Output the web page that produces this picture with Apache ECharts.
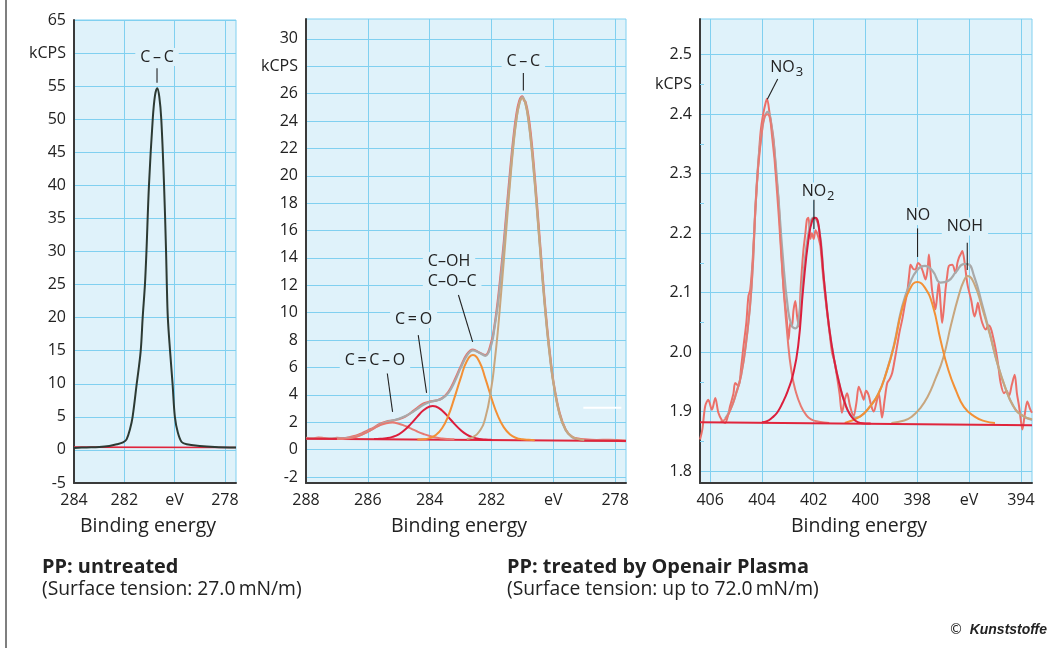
<!DOCTYPE html>
<html>
<head>
<meta charset="utf-8">
<title>XPS C1s / N1s – PP</title>
<script src="https://cdn.jsdelivr.net/npm/echarts@6.0.0/dist/echarts.min.js"></script>
<style>
html,body{margin:0;padding:0;background:#fff;}
#chart{width:1056px;height:648px;}
</style>
</head>
<body>
<div id="chart"></div>
<script>
// ---- panel 1: PP untreated, C1s ----
var p1XTicks = [284, 282, 280, 278];
var p1YTicks = [-5, 0, 5, 10, 15, 20, 25, 30, 35, 40, 45, 50, 55, 60, 65];
var p1Curve = [[284.0,0.30],[283.5,0.38],[283.0,0.45],[282.6,0.60],[282.3,0.85],[282.05,1.15],[281.91,1.6],[281.77,3.2],
  [281.67,5.0],[281.51,9.9],[281.35,14.9],[281.27,20.0],[281.18,25.0],[281.12,30.0],[281.02,40.0],[280.87,50.0],
  [280.78,53.6],[280.69,54.7],[280.61,53.4],[280.53,50.0],[280.42,40.0],[280.34,30.0],[280.31,25.0],[280.27,20.0],
  [280.18,14.9],[280.08,9.9],[279.99,5.0],[279.87,2.6],[279.72,1.2],[279.52,0.85],[279.0,0.6],[278.4,0.45],[277.56,0.35]];
var p1Base = [[284.0,0.42],[277.56,0.36]];

// ---- panel 2: PP plasma treated, C1s ----
var p2XTicks = [288, 286, 284, 282, 280, 278];
var p2YTicks = [-2, 0, 2, 4, 6, 8, 10, 12, 14, 16, 18, 20, 22, 24, 26, 28, 30];
var p2Measured = [[288.0,0.86],[287.8,0.82],[287.6,0.88],[287.4,0.84],[287.2,0.80],[287.0,0.85],[286.8,0.84],[286.6,0.90],
  [286.4,1.00],[286.2,1.18],[286.0,1.40],[285.8,1.62],[285.6,1.88],[285.4,2.05],[285.2,2.12],[285.0,2.22],[284.8,2.40],
  [284.6,2.70],[284.4,3.05],[284.2,3.36],[284.0,3.50],[283.8,3.58],[283.6,3.75],[283.4,4.20],[283.2,5.05],[283.0,6.05],
  [282.8,6.95],[282.6,7.30],[282.4,7.10],[282.2,6.90],[282.0,7.90],[281.9,9.10],[281.8,10.80],[281.7,12.90],[281.6,15.20],
  [281.5,17.80],[281.4,20.30],[281.3,22.60],[281.2,24.40],[281.1,25.50],[281.0,25.80],[280.95,25.50],[280.9,25.40],
  [280.8,24.30],[280.7,22.40],[280.6,19.90],[280.5,17.10],[280.4,14.20],[280.3,11.40],[280.2,8.90],[280.1,6.80],
  [280.0,5.00],[279.8,2.70],[279.6,1.45],[279.4,0.95],[279.2,0.80],[279.0,0.74],[278.6,0.70],[278.2,0.72],[277.65,0.66]];
var p2Envelope = [[288.0,0.80],[287.5,0.79],[287.0,0.80],[286.8,0.81],[286.6,0.85],[286.4,0.94],[286.2,1.10],[286.0,1.32],
  [285.8,1.57],[285.6,1.83],[285.4,2.02],[285.2,2.13],[285.0,2.25],[284.8,2.43],[284.6,2.68],[284.4,2.98],[284.2,3.28],
  [284.0,3.48],[283.8,3.58],[283.6,3.72],[283.4,4.12],[283.2,4.92],[283.0,5.95],[282.8,6.85],[282.6,7.25],[282.4,7.08],
  [282.2,6.85],[282.0,7.70],[281.9,8.95],[281.8,10.50],[281.7,12.50],[281.6,14.80],[281.5,17.40],[281.4,19.90],
  [281.3,22.25],[281.2,24.10],[281.1,25.30],[281.0,25.74],[280.9,25.27],[280.8,23.96],[280.7,21.97],[280.6,19.47],
  [280.5,16.69],[280.4,13.84],[280.3,11.11],[280.2,8.66],[280.1,6.58],[280.0,4.88],[279.8,2.59],[279.6,1.41],
  [279.4,0.91],[279.2,0.73],[279.0,0.66],[278.0,0.63],[277.65,0.62]];
var p2CC = [[282.8,0.77],[282.6,0.92],[282.4,1.30],[282.2,2.30],[282.0,4.60],[281.9,6.40],[281.8,8.55],[281.7,11.14],
  [281.6,13.86],[281.5,16.71],[281.4,19.49],[281.3,21.99],[281.2,23.97],[281.1,25.25],[281.0,25.68],[280.9,25.25],
  [280.8,23.97],[280.7,21.99],[280.6,19.49],[280.5,16.71],[280.4,13.86],[280.3,11.14],[280.2,8.69],[280.1,6.61],
  [280.0,4.91],[279.8,2.62],[279.6,1.45],[279.4,0.95],[279.2,0.77],[279.0,0.70]];
var p2COH = [[284.4,0.73],[284.2,0.75],[284.0,0.84],[283.8,1.06],[283.6,1.56],[283.4,2.46],[283.2,3.78],[283.0,5.20],
  [282.8,6.45],[282.6,6.90],[282.4,6.45],[282.2,5.20],[282.0,3.75],[281.8,2.50],[281.6,1.62],[281.4,1.10],[281.2,0.85],
  [281.0,0.75],[280.8,0.71],[280.6,0.69]];
var p2CO = [[285.8,0.77],[285.6,0.79],[285.4,0.83],[285.2,0.93],[285.0,1.12],[284.8,1.45],[284.6,1.90],[284.4,2.41],
  [284.2,2.87],[284.0,3.15],[283.9,3.19],[283.8,3.15],[283.6,2.86],[283.4,2.39],[283.2,1.88],[283.0,1.43],[282.8,1.09],
  [282.6,0.89],[282.4,0.78],[282.2,0.73],[282.0,0.71]];
var p2CCO = [[287.0,0.77],[286.8,0.78],[286.6,0.82],[286.4,0.92],[286.2,1.08],[286.0,1.30],[285.8,1.55],[285.6,1.79],
  [285.4,1.93],[285.2,1.97],[285.0,1.89],[284.8,1.73],[284.6,1.53],[284.4,1.32],[284.2,1.14],[284.0,0.99],[283.8,0.88],
  [283.6,0.81],[283.4,0.77],[283.2,0.75]];
var p2Base = [[288.0,0.80],[277.65,0.62]];
var p2Stray = [[279.03,3.05],[277.8,3.05]];

// ---- panel 3: PP plasma treated, N1s ----
var p3XTicks = [406, 404, 402, 400, 398, 396, 394];
var p3YTicks = [1.8, 1.9, 2.0, 2.1, 2.2, 2.3, 2.4, 2.5];
var p3YLabels = [1.8, 1.9, 2.0, 2.1, 2.2, 2.3, 2.4, 2.45, 2.5];
var p3MinorTicks = [1.85, 1.95, 2.05, 2.15, 2.25, 2.35, 2.45];
var p3Measured = [[406.39,1.853],[406.3,1.87],[406.19,1.909],[406.07,1.92],[405.93,1.903],[405.8,1.923],[405.68,1.898],
  [405.55,1.886],[405.42,1.881],[405.3,1.895],[405.23,1.909],[405.1,1.93],[405.03,1.948],[404.9,1.943],[404.8,1.975],
  [404.71,2.01],[404.6,2.05],[404.52,2.094],[404.45,2.105],[404.35,2.16],[404.25,2.24],[404.15,2.31],[404.05,2.37],
  [403.95,2.40],[403.85,2.42],[403.8,2.426],[403.7,2.40],[403.55,2.358],[403.45,2.30],[403.36,2.257],[403.25,2.17],
  [403.16,2.105],[403.05,2.06],[402.97,2.021],[402.9,2.05],[402.84,2.043],[402.78,2.07],[402.71,2.086],[402.64,2.06],
  [402.58,2.043],[402.5,2.11],[402.4,2.17],[402.32,2.20],[402.26,2.223],[402.2,2.226],[402.13,2.19],[402.07,2.20],
  [402.0,2.19],[401.93,2.205],[401.87,2.20],[401.8,2.19],[401.74,2.178],[401.62,2.12],[401.48,2.066],[401.38,2.03],
  [401.29,1.999],[401.2,1.985],[401.1,1.959],[401.0,1.93],[400.91,1.898],[400.8,1.92],[400.71,1.931],[400.6,1.91],
  [400.46,1.892],[400.35,1.915],[400.26,1.942],[400.15,1.93],[400.07,1.92],[399.98,1.935],[399.88,1.928],[399.78,1.91],
  [399.68,1.90],[399.58,1.915],[399.49,1.931],[399.42,1.91],[399.36,1.89],[399.26,1.92],[399.16,1.948],[399.06,1.955],
  [398.97,1.965],[398.88,1.985],[398.78,2.01],[398.68,2.035],[398.58,2.055],[398.48,2.08],[398.39,2.10],[398.3,2.135],
  [398.26,2.147],[398.16,2.14],[398.07,2.139],[397.97,2.15],[397.88,2.146],[397.78,2.135],[397.68,2.122],[397.6,2.14],
  [397.55,2.164],[397.48,2.13],[397.43,2.105],[397.36,2.085],[397.3,2.072],[397.23,2.095],[397.17,2.117],[397.1,2.08],
  [397.04,2.049],[396.97,2.075],[396.91,2.105],[396.84,2.13],[396.78,2.145],[396.65,2.147],[396.52,2.133],[396.45,2.15],
  [396.39,2.159],[396.32,2.165],[396.26,2.17],[396.17,2.15],[396.1,2.125],[396.05,2.111],[395.92,2.088],[395.79,2.06],
  [395.72,2.07],[395.66,2.083],[395.58,2.065],[395.49,2.049],[395.36,2.038],[395.25,2.045],[395.17,2.041],[395.07,2.025],
  [394.97,2.004],[394.88,1.98],[394.78,1.948],[394.65,1.931],[394.55,1.935],[394.46,1.926],[394.35,1.945],[394.24,1.962],
  [394.15,1.93],[394.07,1.909],[394.0,1.885],[393.94,1.87],[393.85,1.895],[393.75,1.917],[393.65,1.905],[393.57,1.898]];
var p3Envelope = [[405.42,1.888],[405.2,1.905],[405.0,1.93],[404.8,1.962],[404.6,2.02],[404.4,2.11],[404.2,2.28],
  [404.0,2.372],[403.78,2.404],[403.6,2.37],[403.4,2.28],[403.2,2.165],[403.0,2.075],[402.85,2.045],[402.7,2.04],
  [402.6,2.048],[402.4,2.13],[402.2,2.20],[402.0,2.226],[401.8,2.21],[401.6,2.12],[401.4,2.04],[401.2,1.985],
  [401.0,1.945],[400.8,1.915],[400.6,1.896],[400.4,1.89],[400.2,1.892],[399.8,1.91],[399.5,1.93],[399.2,1.965],
  [398.9,2.012],[398.6,2.074],[398.3,2.114],[398.0,2.138],[397.7,2.145],[397.4,2.136],[397.1,2.117],[396.8,2.12],
  [396.5,2.135],[396.2,2.148],[396.05,2.148],[395.8,2.127],[395.5,2.081],[395.2,2.032],[394.9,1.98],[394.6,1.94],
  [394.3,1.91],[394.0,1.895],[393.57,1.886]];
var p3NO3 = [[405.6,1.883],[405.4,1.888],[405.2,1.905],[405.0,1.93],[404.8,1.962],[404.6,2.02],[404.4,2.11],[404.2,2.28],
  [404.0,2.37],[403.9,2.395],[403.78,2.40],[403.6,2.36],[403.4,2.26],[403.2,2.13],[403.0,2.02],[402.85,1.965],
  [402.7,1.935],[402.5,1.91],[402.3,1.895],[402.1,1.887],[401.8,1.883],[401.4,1.881]];
var p3NO2 = [[404.0,1.882],[403.8,1.884],[403.6,1.89],[403.4,1.899],[403.2,1.915],[403.0,1.935],[402.8,1.962],
  [402.6,2.01],[402.4,2.11],[402.2,2.19],[402.05,2.222],[401.94,2.226],[401.8,2.21],[401.6,2.12],[401.4,2.04],
  [401.2,1.985],[401.0,1.945],[400.8,1.915],[400.6,1.895],[400.4,1.885],[400.2,1.881],[399.8,1.880]];
var p3NO = [[400.8,1.881],[400.2,1.892],[399.8,1.91],[399.5,1.93],[399.2,1.965],[398.9,2.01],[398.6,2.07],[398.3,2.105],
  [398.0,2.118],[397.7,2.108],[397.4,2.078],[397.1,2.02],[396.8,1.97],[396.5,1.935],[396.2,1.908],[395.8,1.892],
  [395.4,1.884],[395.0,1.881]];
var p3NOH = [[399.0,1.881],[398.5,1.885],[398.2,1.892],[397.9,1.905],[397.6,1.925],[397.3,1.955],[397.0,1.99],
  [396.7,2.045],[396.4,2.095],[396.2,2.12],[396.05,2.128],[395.8,2.115],[395.5,2.075],[395.2,2.03],[394.9,1.98],
  [394.6,1.94],[394.3,1.91],[394.0,1.895],[393.57,1.887]];
var p3Base = [[406.39,1.882],[393.57,1.877]];

// peak labels: text, position [eV, kCPS], leader from/to
var peakLabels = [
  {grid:0, text:'C\u2009\u2013\u2009C', at:[280.70,59.4], from:[280.70,57.7], to:[280.70,55.5]},
  {grid:1, text:'C\u2009\u2013\u2009C', at:[280.97,28.35], from:[280.97,27.5], to:[280.97,26.22]},
  {grid:1, text:'C\u2013OH', at:[284.22,13.77], align:'left'},
  {grid:1, text:'C\u2013O\u2013C', at:[284.22,12.31], align:'left', from:[283.07,11.29], to:[282.61,7.87]},
  {grid:1, text:'C\u2009=\u2009O', at:[284.52,9.53], from:[284.37,8.36], to:[284.10,4.14]},
  {grid:1, text:'C\u2009=\u2009C\u2009\u2013\u2009O', at:[285.77,6.53], from:[285.37,5.56], to:[285.20,2.75]},
  {grid:2, text:'NO', sub:'3', at:[403.04,2.478], from:[403.39,2.459], to:[403.79,2.425]},
  {grid:2, text:'NO', sub:'2', at:[401.83,2.270], from:[401.99,2.256], to:[401.99,2.207]},
  {grid:2, text:'NO', at:[397.97,2.229], from:[397.99,2.208], to:[397.99,2.160]},
  {grid:2, text:'NOH', at:[396.16,2.211], from:[396.07,2.184], to:[396.07,2.138]}
];

var BG = '#dff2fa', GRIDC = '#80d0f0', AXISC = '#3a3a3a', TXT = '#222', FONT = '"Open Sans", "Noto Sans", sans-serif';
var C_MEAS = '#ec6f68', C_ENV = '#a9a9a9', C_TAN = '#c8a67e', C_ORANGE = '#f39035', C_CRIMSON = '#dc1e3c',
    C_SALMON = '#e77a72', C_BASE = '#e0253c';

function fmt(v, kcps, digits) {
  if (Math.abs(v - kcps) < 1e-6) return 'kCPS';
  return digits ? v.toFixed(digits) : String(v);
}

function xAxisCfg(grid, min, max, ticks, evTick) {
  return {
    gridIndex: grid, type: 'value', min: min, max: max, inverse: true,
    axisLine: {show: true, onZero: false, lineStyle: {color: AXISC, width: 2}},
    axisTick: {show: false, customValues: ticks},
    axisLabel: {customValues: ticks, margin: 9, fontSize: 16, color: TXT, fontFamily: FONT,
      formatter: function (v) { return v === evTick ? 'eV' : String(v); }},
    splitLine: {show: true, lineStyle: {color: GRIDC, width: 1}}
  };
}

function yAxisCfg(grid, min, max, ticks, labels, kcps, digits) {
  return {
    gridIndex: grid, type: 'value', min: min, max: max,
    axisLine: {show: true, onZero: false, lineStyle: {color: AXISC, width: 2}},
    axisTick: {show: false, customValues: ticks},
    axisLabel: {customValues: labels, margin: 8, fontSize: 16, color: TXT, fontFamily: FONT,
      formatter: function (v) { return fmt(v, kcps, digits); }},
    splitLine: {show: true, lineStyle: {color: GRIDC, width: 1}}
  };
}

function line(grid, data, color, z, smooth, width) {
  return {
    type: 'line', xAxisIndex: grid, yAxisIndex: grid, data: data, symbol: 'none', showSymbol: false,
    smooth: smooth, silent: true, z: z,
    lineStyle: {color: color, width: width || 2}
  };
}

var gridBox = {show: true, backgroundColor: BG, borderColor: GRIDC, borderWidth: 1, outerBoundsMode: 'none'};

var option = {
  animation: false,
  backgroundColor: '#fff',
  grid: [
    Object.assign({left: 74, top: 20, width: 162, height: 463}, gridBox),
    Object.assign({left: 306, top: 19, width: 320, height: 464}, gridBox),
    Object.assign({left: 700, top: 19, width: 332, height: 464}, gridBox)
  ],
  xAxis: [
    xAxisCfg(0, 277.56, 284, p1XTicks, 280),
    xAxisCfg(1, 277.65, 288, p2XTicks, 280),
    xAxisCfg(2, 393.57, 406.39, p3XTicks, 396)
  ],
  yAxis: [
    yAxisCfg(0, -5, 65, p1YTicks, p1YTicks, 60, 0),
    yAxisCfg(1, -2.44, 31.45, p2YTicks, p2YTicks, 28, 0),
    yAxisCfg(2, 1.78, 2.56, p3YTicks, p3YLabels, 2.45, 1),
    {
      gridIndex: 2, type: 'value', min: 1.78, max: 2.56, position: 'left',
      axisLine: {show: true, onZero: false, lineStyle: {color: 'rgba(0,0,0,0)'}},
      axisTick: {show: true, inside: true, length: 4, customValues: p3MinorTicks, lineStyle: {color: GRIDC, width: 1}},
      axisLabel: {show: false},
      splitLine: {show: false}
    }
  ],
  series: [
    line(0, p1Base, C_BASE, 2, false, 1.6),
    line(0, p1Curve, '#2c3a33', 3, 0.35, 2),

    line(1, p2Measured, C_MEAS, 2, 0.4, 2.2),
    line(1, p2Envelope, C_ENV, 3, 0.4, 2.2),
    line(1, p2Base, C_BASE, 4, false, 2),
    line(1, p2CCO, C_SALMON, 5, 0.5),
    line(1, p2CO, C_CRIMSON, 5, 0.5),
    line(1, p2COH, C_ORANGE, 5, 0.5),
    line(1, p2CC, C_TAN, 6, 0.5),
    line(1, p2Stray, '#ffffff', 6, false, 2),

    line(2, p3Measured, C_MEAS, 2, 0.3, 2),
    line(2, p3Envelope, C_ENV, 3, 0.5, 2.2),
    line(2, p3NO3, C_SALMON, 4, 0.5),
    line(2, p3NOH, C_TAN, 4, 0.5),
    line(2, p3NO, C_ORANGE, 5, 0.5),
    line(2, p3NO2, C_CRIMSON, 5, 0.5),
    line(2, p3Base, C_BASE, 6, false, 2)
  ]
};

var chart = echarts.init(document.getElementById('chart'), null, {renderer: 'canvas'});
chart.setOption(option);

// texts outside the plots
var measureCtx = document.createElement('canvas').getContext('2d');
function textWidth(str, size) {
  measureCtx.font = size + 'px ' + FONT;
  return measureCtx.measureText(str).width;
}

function txt(x, y, text, size, extra) {
  var style = Object.assign({text: text, x: x, y: y, fontSize: size, fontFamily: FONT, fill: TXT,
    align: 'left', verticalAlign: 'middle'}, extra || {});
  return {type: 'text', z: 100, silent: true, style: style};
}

var kunst = txt(0, 0, 'Kunststoffe', 15.5, {align: 'right', fontWeight: 'bold', fontStyle: 'italic',
  fontFamily: '"Liberation Sans Narrow", "Liberation Sans", sans-serif'});
kunst.x = 1047; kunst.y = 630; kunst.scaleX = 0.9;

var graphics = [
  {type: 'line', silent: true, shape: {x1: 6, y1: 0, x2: 6, y2: 648}, style: {stroke: '#555', lineWidth: 1.5}},
  txt(148, 526, 'Binding energy', 19.5, {align: 'center'}),
  txt(459, 526, 'Binding energy', 19.5, {align: 'center'}),
  txt(859, 526, 'Binding energy', 19.5, {align: 'center'}),
  txt(42, 567, 'PP: untreated', 19.9, {fontWeight: 'bold'}),
  txt(42, 590, '(Surface tension: 27.0\u2009mN/m)', 19.3),
  txt(507, 567, 'PP: treated by Openair Plasma', 19.9, {fontWeight: 'bold'}),
  txt(507, 590, '(Surface tension: up to 72.0\u2009mN/m)', 19.3),
  txt(956, 630, '\u00a9', 14, {align: 'center', fontFamily: '"DejaVu Sans", sans-serif'}),
  kunst
];

var LBL = 16;
peakLabels.forEach(function (p) {
  var pos = chart.convertToPixel({gridIndex: p.grid}, p.at);
  if (p.sub) {
    var wMain = textWidth(p.text, LBL), wSub = textWidth(p.sub, 13);
    var left = pos[0] - (wMain + wSub + 1) / 2;
    graphics.push(txt(left - 4, pos[1], p.text, LBL, {backgroundColor: BG, padding: [1, 2, 1, 4]}));
    graphics.push(txt(left + wMain + 1, pos[1] + 5, p.sub, 13));
  } else {
    graphics.push(txt(pos[0], pos[1], p.text, LBL, {align: p.align || 'center', backgroundColor: BG,
      padding: [1, 5]}));
  }
  if (p.from) {
    var a = chart.convertToPixel({gridIndex: p.grid}, p.from);
    var b = chart.convertToPixel({gridIndex: p.grid}, p.to);
    graphics.push({type: 'line', z: 100, silent: true, shape: {x1: a[0], y1: a[1], x2: b[0], y2: b[1]},
      style: {stroke: '#222', lineWidth: 1.1}});
  }
});

chart.setOption({graphic: graphics});
</script>
</body>
</html>
